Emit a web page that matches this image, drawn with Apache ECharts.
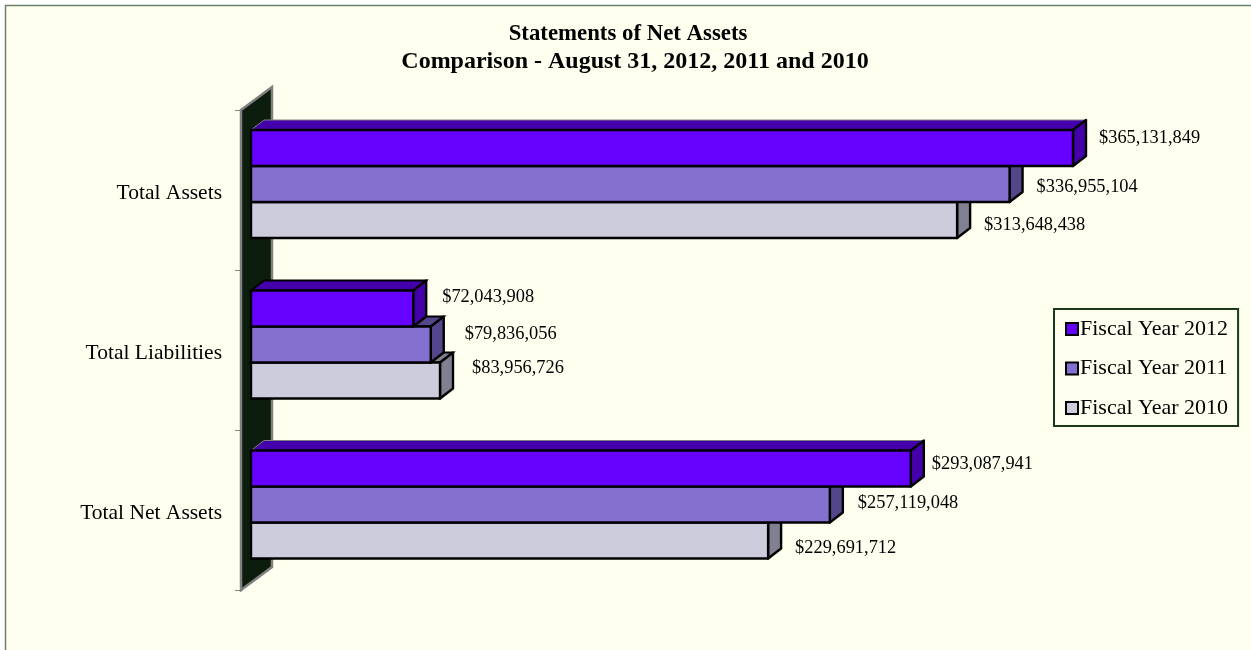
<!DOCTYPE html>
<html>
<head>
<meta charset="utf-8">
<style>
  html, body { margin: 0; padding: 0; background: #fff; }
  #main { width: 1251px; height: 650px; }
</style>
<script src="https://cdn.jsdelivr.net/npm/echarts@6/dist/echarts.min.js"></script>
</head>
<body>
<div id="main"></div>
<script>
const categories = ['Total Assets', 'Total Liabilities', 'Total Net Assets']
const fy2012 = [365131849, 72043908, 293087941]
const fy2011 = [336955104, 79836056, 257119048]
const fy2010 = [313648438, 83956726, 229691712]

const FONT = '"Liberation Serif", "Times New Roman", serif'
const DX = 13 // depth of the bars
const DY = 10
const WALL_DX = 31
const WALL_DY = 23
const BAR_LEFT = 10 // front of the bars sits this far off the wall
const BAR_UP = 6
const BAR_H = 36

// the data labels were placed by hand in the original: [dx from bar end, dy from bar centre]
const labelNudge = [
  [[26, -10], [27, 3], [27, 5]],
  [[29, -11], [34, -10], [32, -12]],
  [[21, -4], [28, -1], [27, 8]]
]

const money = v => '$' + v.toLocaleString('en-US')

function barItem(slot, front, side, top) {
  return function(params, api) {
    const cat = api.value(1)
    const end = api.coord([api.value(0), cat])
    const zero = api.coord([0, cat])
    const x0 = zero[0] + BAR_LEFT
    const x1 = end[0] + BAR_LEFT
    const y0 = end[1] - BAR_UP - BAR_H * 1.5 + slot * BAR_H + (cat > 0 ? 0.5 : 0)
    const y1 = y0 + BAR_H
    const line = { stroke: '#000', lineWidth: 2.4, lineJoin: 'round' }
    const nudge = labelNudge[cat][slot]
    // the short middle group keeps a dark outline on the top face
    const topLine = cat === 1 ? { stroke: '#000', lineWidth: 2 } : { stroke: '#808080', lineWidth: 1 }
    return {
      type: 'group',
      children: [
        { type: 'polygon', shape: { points: [[x0, y0], [x0 + DX, y0 - DY], [x1 + DX, y0 - DY], [x1, y0]] }, style: Object.assign({ fill: top }, topLine) },
        { type: 'polygon', shape: { points: [[x1, y0], [x1 + DX, y0 - DY], [x1 + DX, y1 - DY], [x1, y1]] }, style: Object.assign({ fill: side }, line) },
        { type: 'rect', shape: { x: x0, y: y0, width: x1 - x0, height: BAR_H }, style: Object.assign({ fill: front }, line) },
        { type: 'text', style: { text: money(api.value(0)), x: x1 + nudge[0], y: (y0 + y1) / 2 + nudge[1], fill: '#000', font: '18.4px ' + FONT, textAlign: 'left', textVerticalAlign: 'middle' } }
      ]
    }
  }
}

function makeSeries(name, values, slot, front, side, top) {
  return {
    name: name,
    type: 'custom',
    coordinateSystem: 'cartesian2d',
    renderItem: barItem(slot, front, side, top),
    itemStyle: { color: front, borderColor: '#000', borderWidth: 2 },
    encode: { x: 0, y: 1 },
    clip: false,
    z: 5 - slot,
    data: values.map((v, i) => [v, i])
  }
}

function wallItem(params, api) {
  const r = params.coordSys
  return {
    type: 'polygon',
    shape: { points: [
      [r.x, r.y],
      [r.x + WALL_DX, r.y - WALL_DY],
      [r.x + WALL_DX, r.y + r.height - WALL_DY],
      [r.x, r.y + r.height]
    ] },
    style: { fill: '#0d1d0d', stroke: '#808080', lineWidth: 2.5 }
  }
}

const chart = echarts.init(document.getElementById('main'), null, { renderer: 'canvas' })
chart.setOption({
  animation: false,
  backgroundColor: '#fff',
  textStyle: { fontFamily: FONT, color: '#000' },
  graphic: [{
    type: 'rect', z: -10, silent: true,
    shape: { x: 5.5, y: 5.5, width: 1300, height: 700 },
    style: { fill: '#FFFFF0', stroke: '#6b7f6b', lineWidth: 1.5 }
  }],
  title: {
    text: '{a|Statements of Net Assets}\n{b|Comparison - August 31, 2012, 2011 and 2010}',
    left: 630, textAlign: 'center', top: 16,
    textStyle: {
      rich: {
        a: { fontFamily: FONT, fontSize: 22.8, fontWeight: 'bold', color: '#000', lineHeight: 27, padding: [0, 14, 0, 0] },
        b: { fontFamily: FONT, fontSize: 24, fontWeight: 'bold', color: '#000', lineHeight: 27 }
      }
    }
  },
  legend: {
    orient: 'vertical',
    left: 1054, top: 309,
    padding: [9, 10, 7, 11],
    itemGap: 17.5,
    itemWidth: 12, itemHeight: 12,
    icon: 'rect',
    borderColor: '#1a3a1a', borderWidth: 2,
    selectedMode: false,
    data: ['Fiscal Year 2012', 'Fiscal Year 2011', 'Fiscal Year 2010'],
    textStyle: { fontFamily: FONT, fontSize: 22, color: '#000', padding: [0, 0, 0, -3] }
  },
  grid: { left: 241, top: 110, width: 900.5, height: 480 },
  xAxis: { type: 'value', min: 0, max: 400000000, show: false },
  yAxis: {
    type: 'category', inverse: true, data: categories,
    axisLine: { show: true, lineStyle: { color: '#808080', width: 2.5 } },
    axisTick: { show: true, length: 6, lineStyle: { color: '#808080', width: 1 } },
    axisLabel: { fontFamily: FONT, fontSize: 21.5, color: '#000', margin: 19, verticalAlign: 'top', lineHeight: 6 }
  },
  series: [
    { name: 'wall', type: 'custom', renderItem: wallItem, data: [[0, 0]], encode: { x: 0, y: 1 }, z: 1, clip: false, silent: true },
    makeSeries('Fiscal Year 2012', fy2012, 0, '#6600FF', '#4400AA', '#4400AA'),
    makeSeries('Fiscal Year 2011', fy2011, 1, '#8470CF', '#55458A', '#55458A'),
    makeSeries('Fiscal Year 2010', fy2010, 2, '#CCCCDD', '#808090', '#808090')
  ]
})
</script>
</body>
</html>
